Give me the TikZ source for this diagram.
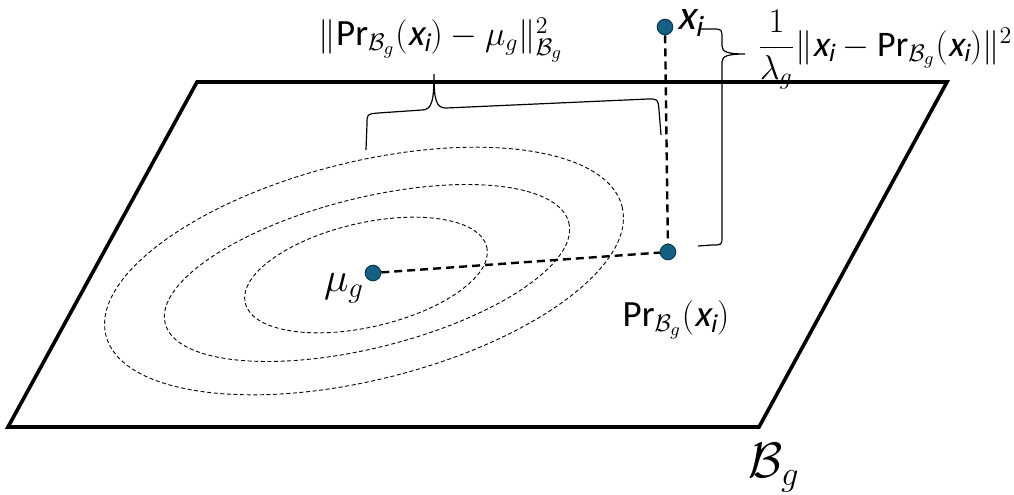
\documentclass[tikz,border=0pt]{standalone}
\usepackage{amsmath,amssymb}
\usepackage{fontspec}
\setmainfont{Carlito}
\newfontfamily\slantfont{Carlito}[FakeSlant=0.2]
\newcommand{\xv}[1]{\text{\slantfont #1}}
\usepackage{tikz}

\begin{document}
\begin{tikzpicture}[x=0.5pt,y=-0.5pt,
    plane/.style={line width=1.8pt,line join=miter},
    ring/.style={line width=0.45pt,dash pattern=on 2pt off 1.3pt},
    guide/.style={line width=1.2pt,dash pattern=on 4pt off 2.5pt},
    brace/.style={line width=0.6pt},
    pt/.style={circle,fill=dotfill,draw=dotline,line width=0.5pt,minimum width=7.2pt,minimum height=7.8pt,inner sep=0},
    lab/.style={inner sep=0,font=\fontsize{18.5}{22}\selectfont}]
    \definecolor{dotfill}{RGB}{21,96,130}
    \definecolor{dotline}{RGB}{12,58,80}
    \useasboundingbox (0,0) rectangle (1014,494);
    % the subspace
    \draw[plane] (197,82) -- (947,82) -- (759,427) -- (8,427) -- cycle;
    % level sets
    \draw[ring,rotate around={14:(364,271)}] (364,271) ellipse [x radius=266,y radius=109];
    \draw[ring,rotate around={14:(367,273)}] (367,273) ellipse [x radius=208,y radius=75];
    \draw[ring,rotate around={13:(366,275)}] (366,275) ellipse [x radius=124,y radius=52];
    % points
    \node[pt] (mu) at (373,273) {};
    \node[pt] (pr) at (668,252) {};
    \node[pt] (xi) at (665,27) {};
    \draw[guide] (mu) -- (pr);
    \draw[guide] (xi) -- (pr);
    % braces
    \draw[brace] (366,150) -- (367,124) .. controls (367,114) .. (378,113) -- (422,110)
        .. controls (432,110) and (434,100) .. (434,74) .. controls (434,100) and (436,108) .. (446,108)
        -- (648,99) .. controls (658,99) .. (659,110) -- (661,135);
    \draw[brace] (700,29) -- (712,29) .. controls (722,29) .. (722,39) -- (722,46)
        .. controls (722,52) and (728,54) .. (745,54) .. controls (728,54) and (722,56) .. (722,62)
        -- (722,236) .. controls (722,245) .. (712,245) -- (698,246);
    % labels
    \node[lab,font=\fontsize{20}{24}\selectfont] (mulab) at (344,288) {$\mu_g$};
    \node[lab] (prlab) at (676,320) {$\mathrm{Pr}_{\mathcal{B}_g}(\xv{x}_{\xv{i}})$};
    \node[lab,font=\fontsize{21}{25}\selectfont] (xilab) at (690,23) {$\xv{x}_{\xv{i}}$};
    \node[lab] (dist) at (441,40) {$\|\mathrm{Pr}_{\mathcal{B}_g}(\xv{x}_{\xv{i}})-\mu_g\|^2_{\mathcal{B}_g}$};
    \node[lab,font=\fontsize{18}{22}\selectfont] (resid) at (885,50) {$\dfrac{1}{\lambda_g}\|\xv{x}_{\xv{i}}-\mathrm{Pr}_{\mathcal{B}_g}(\xv{x}_{\xv{i}})\|^2$};
    \node[lab,font=\fontsize{24}{28}\selectfont] (space) at (774,468) {$\mathcal{B}_g$};
\end{tikzpicture}
\end{document}
